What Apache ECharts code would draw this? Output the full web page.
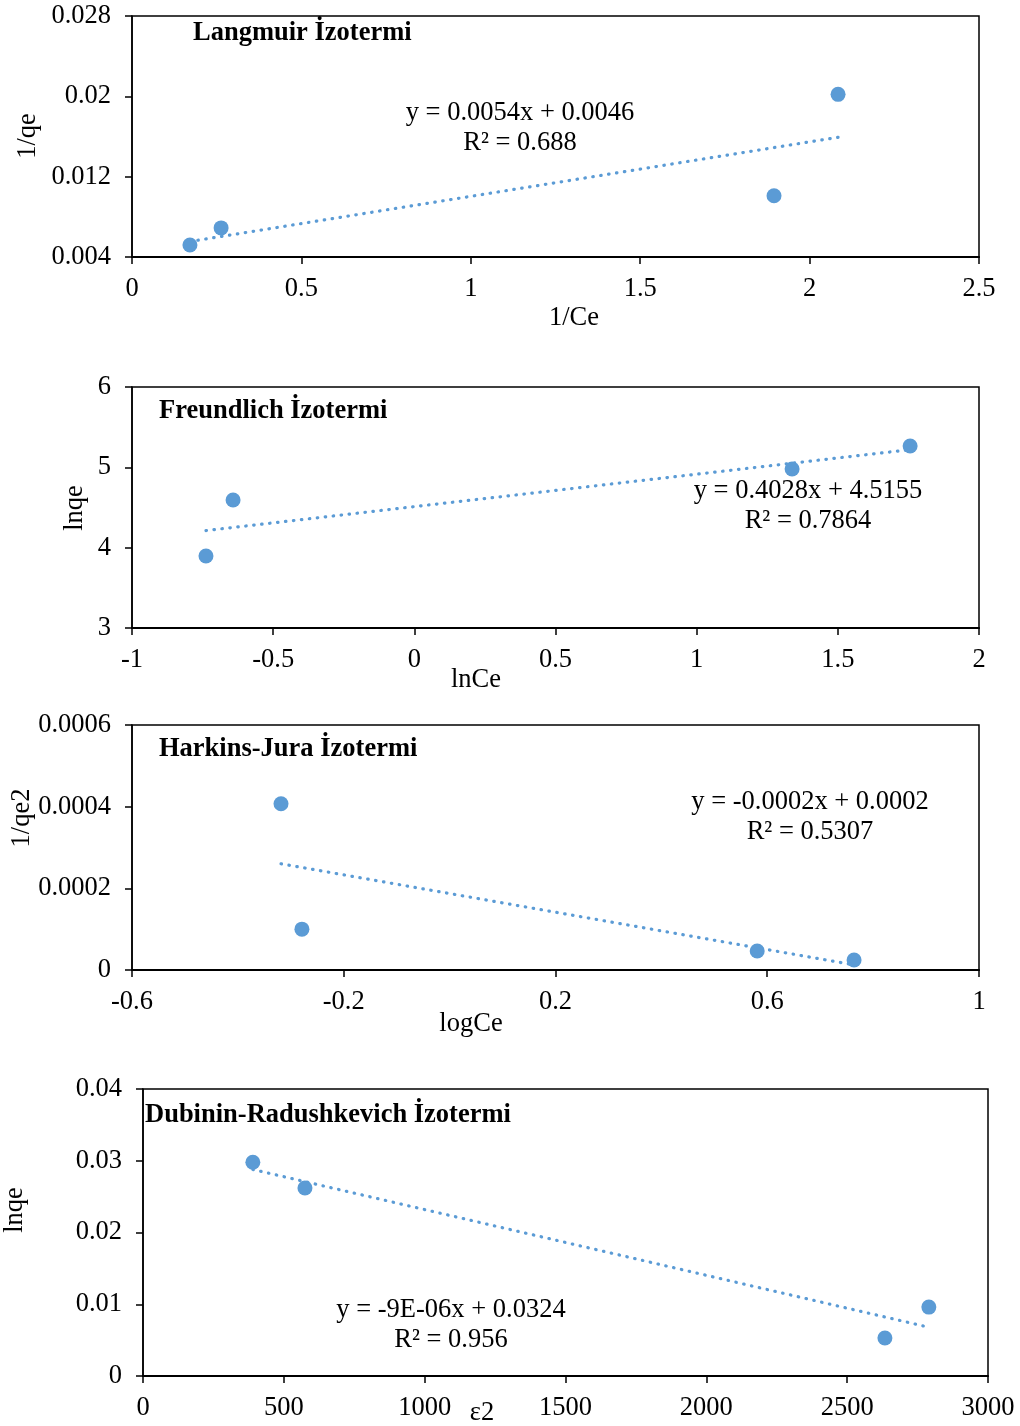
<!DOCTYPE html>
<html>
<head>
<meta charset="utf-8">
<script src="https://cdn.jsdelivr.net/npm/echarts@6/dist/echarts.min.js"></script>
<style>
  html, body { margin: 0; padding: 0; background: #fff; }
  #chart { width: 1020px; height: 1426px; }
</style>
</head>
<body>
<div id="chart"></div>
<script>
// Isotherm data: one x/y pair of arrays per model
const langX = [0.171, 0.263, 1.895, 2.084];
const langY = [0.0052, 0.0069, 0.0101, 0.0202];
const freX = [-0.738, -0.642, 1.338, 1.756];
const freY = [3.896, 4.593, 4.98, 5.266];
const hjX = [-0.3185, -0.279, 0.581, 0.764];
const hjY = [0.000407, 0.0001, 0.0000465, 0.0000245];
const drX = [390, 575, 2634, 2790];
const drY = [0.0298, 0.0262, 0.0053, 0.0096];

// Panel titles, fit equations and axis names
const titles = ['Langmuir İzotermi', 'Freundlich İzotermi', 'Harkins-Jura İzotermi', 'Dubinin-Radushkevich İzotermi'];
const equations = [
  ['y = 0.0054x + 0.0046', 'R² = 0.688'],
  ['y = 0.4028x + 4.5155', 'R² = 0.7864'],
  ['y = -0.0002x + 0.0002', 'R² = 0.5307'],
  ['y = -9E-06x + 0.0324', 'R² = 0.956']
];
const xNames = ['1/Ce', 'lnCe', 'logCe', 'ε2'];
const yNames = ['1/qe', 'lnqe', '1/qe2', 'lnqe'];

// Axis ranges: [min, max, interval]
const xRanges = [[0, 2.5, 0.5], [-1, 2, 0.5], [-0.6, 1, 0.4], [0, 3000, 500]];
const yRanges = [[0.004, 0.028, 0.008], [3, 6, 1], [0, 0.0006, 0.0002], [0, 0.04, 0.01]];

const panels = [[langX, langY], [freX, freY], [hjX, hjY], [drX, drY]];

// Least-squares linear trendline spanning the data's x range
function trend(xs, ys) {
  const n = xs.length;
  const mx = xs.reduce((a, b) => a + b, 0) / n;
  const my = ys.reduce((a, b) => a + b, 0) / n;
  let sxy = 0, sxx = 0;
  for (let i = 0; i < n; i++) {
    sxy += (xs[i] - mx) * (ys[i] - my);
    sxx += (xs[i] - mx) * (xs[i] - mx);
  }
  const b = sxy / sxx, a = my - b * mx;
  const x0 = Math.min(...xs), x1 = Math.max(...xs);
  return [[x0, a + b * x0], [x1, a + b * x1]];
}

const FONT = '"Liberation Serif", "Times New Roman", serif';
const FS = 26.5;
const BLUE = '#5B9BD5';

// Plain number text (no thousands separators), rounding off float noise
const plain = v => String(parseFloat(v.toPrecision(10)));

const grids = [
  { left: 132, top: 16, width: 847, height: 241 },
  { left: 132, top: 387, width: 847, height: 241 },
  { left: 132, top: 725, width: 847, height: 245 },
  { left: 143, top: 1089, width: 845, height: 287 }
].map(g => Object.assign({ show: true, borderColor: '#000', borderWidth: 1.5, backgroundColor: '#fff' }, g));

const xAxes = xRanges.map((r, i) => ({
  type: 'value', gridIndex: i, min: r[0], max: r[1], interval: r[2],
  axisLine: { show: true, onZero: false, lineStyle: { color: '#000', width: 2 } },
  axisTick: { show: true, length: 7, lineStyle: { color: '#000', width: 1.5 } },
  axisLabel: { color: '#000', fontFamily: FONT, fontSize: FS, margin: 19, formatter: plain },
  splitLine: { show: false }
}));

const yAxes = yRanges.map((r, i) => ({
  type: 'value', gridIndex: i, min: r[0], max: r[1], interval: r[2],
  axisLine: { show: true, onZero: false, lineStyle: { color: '#000', width: 1.5 } },
  axisTick: { show: true, length: 7, lineStyle: { color: '#000', width: 1.5 } },
  axisLabel: { color: '#000', fontFamily: FONT, fontSize: FS, margin: 21, formatter: plain },
  splitLine: { show: false }
}));

const series = [];
panels.forEach((p, i) => {
  series.push({
    type: 'line', xAxisIndex: i, yAxisIndex: i, z: 2,
    data: trend(p[0], p[1]), showSymbol: false, silent: true,
    lineStyle: { color: BLUE, width: 3.2, type: [0.5, 7.5], cap: 'round' }
  });
  series.push({
    type: 'scatter', xAxisIndex: i, yAxisIndex: i, z: 3,
    data: p[0].map((x, k) => [x, p[1][k]]),
    symbol: 'circle', symbolSize: 15,
    itemStyle: { color: BLUE, opacity: 1 }
  });
});

// Text placement for each panel
const titlePos = [[193, 33], [159, 411], [159, 749], [145, 1115]];
const eqPos = [[520, 113], [808, 491], [810, 802], [451, 1310]];
const xNamePos = [[574, 318], [476, 680], [471, 1024], [482, 1413]];
const yNamePos = [[28, 136], [75, 508], [22, 818], [15, 1210]];

const graphic = [];
function txt(text, x, y, opts) {
  graphic.push(Object.assign({
    type: 'text', x: x, y: y, z: 10,
    style: Object.assign({
      text: text, fill: '#000', font: FS + 'px ' + FONT,
      align: 'center', verticalAlign: 'middle'
    }, (opts && opts.style) || {})
  }, (opts && opts.el) || {}));
}
titles.forEach((t, i) => txt(t, titlePos[i][0], titlePos[i][1], { style: { font: 'bold ' + FS + 'px ' + FONT, align: 'left' } }));
equations.forEach((eq, i) => {
  txt(eq[0], eqPos[i][0], eqPos[i][1]);
  txt(eq[1], eqPos[i][0], eqPos[i][1] + 30);
});
xNames.forEach((t, i) => txt(t, xNamePos[i][0], xNamePos[i][1]));
yNames.forEach((t, i) => txt(t, yNamePos[i][0], yNamePos[i][1], { el: { rotation: Math.PI / 2 } }));

const chart = echarts.init(document.getElementById('chart'), null, { renderer: 'canvas' });
chart.setOption({
  animation: false,
  backgroundColor: '#fff',
  grid: grids,
  xAxis: xAxes,
  yAxis: yAxes,
  series: series,
  graphic: graphic
});
</script>
</body>
</html>
